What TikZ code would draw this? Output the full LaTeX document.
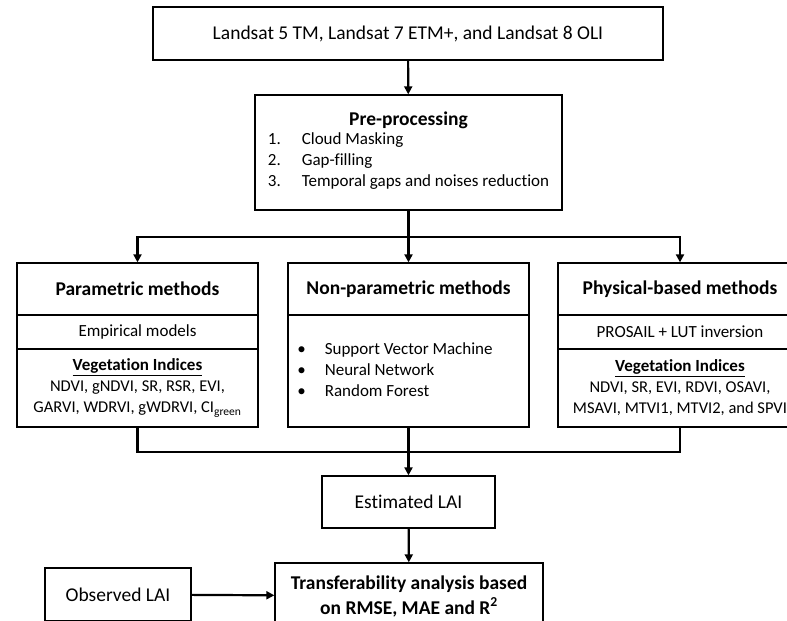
\documentclass[tikz,border=0pt]{standalone}
\usepackage{fontspec}
\setmainfont{Carlito}[Ligatures=NoCommon]
\usepackage{tikz}
\usetikzlibrary{arrows.meta,calc}

\begin{document}
\begin{tikzpicture}[x=1pt,y=-1pt,>={Triangle[length=8pt,width=8pt]},
  box/.style={draw,line width=1.3pt,inner sep=0pt,align=center,
    font=\fontsize{17}{21}\selectfont},
  big/.style={font=\fontsize{19.5}{25}\selectfont},
  head/.style={font=\fontsize{19.5}{25}\selectfont\bfseries},
  vilist/.style={font=\fontsize{16.5}{21}\selectfont},
  link/.style={line width=2.2pt}]
  \useasboundingbox (0,0) rectangle (787,621);
  \clip (0,0) rectangle (787,621);
  % input and pre-processing
  \node[box,big,minimum width=510pt,minimum height=53pt] (sat) at (408,33.5)
    {Landsat 5 TM, Landsat 7 ETM+, and Landsat 8 OLI};
  \node[box,minimum width=307pt,minimum height=115pt] (prep) at (408.5,152.5)
    {{\fontsize{19.5}{21}\selectfont\bfseries Pre-processing}\\
     \begin{tabular}{@{}l@{\hspace{21pt}}l@{}}
       1. & Cloud Masking\\
       2. & Gap-filling\\
       3. & Temporal gaps and noises reduction
     \end{tabular}};
  % the three families of methods
  \node[box,head,minimum width=241pt,minimum height=52pt] (partitle) at (137.5,289) {Parametric methods};
  \node[box,minimum width=241pt,minimum height=34pt] (parsub) at (137.5,332) {Empirical models};
  \node[box,vilist,minimum width=241pt,minimum height=78pt] (parvi) at (137.5,388)
    {\underline{\fontsize{17}{21}\selectfont\textbf{Vegetation Indices}}\\
     NDVI, gNDVI, SR, RSR, EVI,\\
     GARVI, WDRVI, gWDRVI, CI\textsubscript{green}};
  \node[box,head,minimum width=241pt,minimum height=52pt] (nontitle) at (408.5,289) {Non-parametric methods};
  \node[box,minimum width=241pt,minimum height=112pt] (nonbody) at (408.5,371)
    {\begin{tabular}{@{}l@{\hspace{19pt}}l@{}}
       \textbullet & Support Vector Machine\\
       \textbullet & Neural Network\\
       \textbullet & Random Forest
     \end{tabular}\hspace*{27pt}};
  \node[box,head,minimum width=244pt,minimum height=52pt] (phytitle) at (680,289) {Physical-based methods};
  \node[box,minimum width=244pt,minimum height=34pt] (physub) at (680,332) {PROSAIL + LUT inversion};
  \node[box,vilist,minimum width=244pt,minimum height=78pt] (phyvi) at (680,388)
    {\underline{\fontsize{17}{21}\selectfont\textbf{Vegetation Indices}}\\
     NDVI, SR, EVI, RDVI, OSAVI,\\
     MSAVI, MTVI1, MTVI2, and SPVI};
  % outputs
  \node[box,big,minimum width=173pt,minimum height=52pt] (est) at (408.5,502) {Estimated LAI};
  \node[box,big,minimum width=146pt,minimum height=53pt] (obs) at (118,594.5) {Observed LAI};
  \node[box,head,minimum width=268pt,minimum height=66pt] (tra) at (409,596)
    {Transferability analysis based\\ on RMSE, MAE and R\textsuperscript{2}};
  \coordinate (split) at (408.5,237);
  \coordinate (merge) at (408.5,452);
  \draw[link,->] (sat) -- (prep);
  \draw[link] (prep) -- (split);
  \draw[link,->] (split) -| (partitle.north);
  \draw[link,->] (split) -- (nontitle);
  \draw[link,->] (split) -| (phytitle.north);
  \draw[link] (parvi.south) |- (merge) -| (phyvi.south);
  \draw[link,->] (nonbody) -- (est);
  \draw[link,->] (est) -- (tra);
  \draw[link,->] (obs) -- (tra);
\end{tikzpicture}
\end{document}
